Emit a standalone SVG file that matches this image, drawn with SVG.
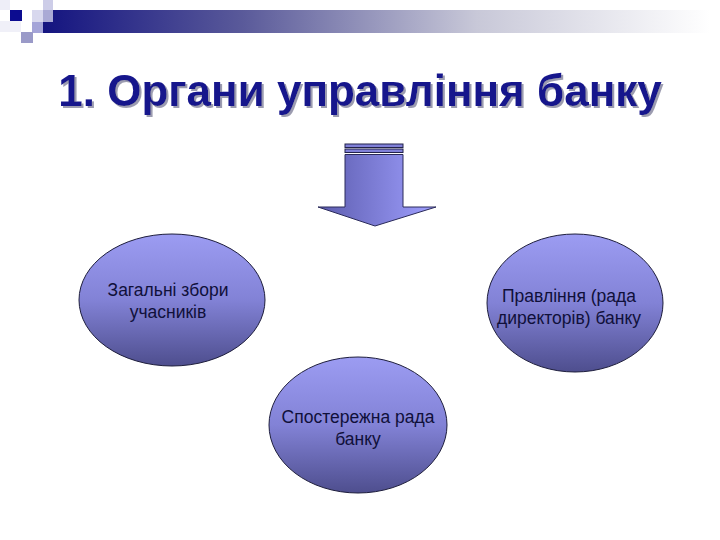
<svg xmlns="http://www.w3.org/2000/svg" width="720" height="540" viewBox="0 0 720 540">
<defs>
<linearGradient id="bar" x1="0" y1="0" x2="1" y2="0">
<stop offset="0" stop-color="#141480"/>
<stop offset="0.3" stop-color="#5a5a9a"/>
<stop offset="0.65" stop-color="#c8c8d8"/>
<stop offset="1" stop-color="#ffffff"/>
</linearGradient>
<linearGradient id="ell" x1="0" y1="0" x2="0" y2="1">
<stop offset="0" stop-color="#9c9cf2"/>
<stop offset="0.5" stop-color="#8282d6"/>
<stop offset="1" stop-color="#4e4e8e"/>
</linearGradient>
<linearGradient id="arr" x1="0" y1="0" x2="1" y2="0">
<stop offset="0" stop-color="#5c5cae"/>
<stop offset="1" stop-color="#a0a0ff"/>
</linearGradient>
<filter id="shadow" x="-5%" y="-20%" width="110%" height="150%">
<feDropShadow dx="2" dy="2" stdDeviation="0.6" flood-color="#9c9cb0" flood-opacity="1"/>
</filter>
</defs>
<style>
.node ellipse{fill:url(#ell);stroke:#1e1e3c;stroke-width:1}
.lbl{font-family:"Liberation Sans",Arial,sans-serif;font-size:17.5px;fill:#10103a;text-anchor:middle}
.title{font-family:"Liberation Sans",Arial,sans-serif;font-size:44px;font-weight:bold;text-anchor:middle;fill:#14148c}
</style>
<rect width="720" height="540" fill="#ffffff"/>
<!-- header decoration -->
<rect x="43" y="10" width="667" height="23" fill="url(#bar)"/>
<rect x="43" y="0" width="10" height="22" fill="#c4c4e4" opacity="0.85"/>
<rect x="32" y="10" width="11" height="12" fill="#d8d8ee"/>
<rect x="32" y="22" width="11" height="11" fill="#a4a4d8"/>
<rect x="0" y="0" width="10" height="10" fill="#eeeef8"/>
<rect x="10" y="10" width="12" height="11" fill="#0c0c90"/>
<rect x="21" y="32" width="12" height="11" fill="#9a9ac8"/>
<rect x="0" y="21" width="21" height="11" fill="#f0f0f8"/>
<!-- title -->
<text class="title" x="360" y="106" filter="url(#shadow)">1. Органи управління банку</text>
<!-- arrow -->
<g id="arrow">
<rect x="345" y="144" width="58" height="3.5" fill="#8080d8" stroke="#22224a" stroke-width="1"/>
<rect x="345" y="149" width="58" height="3.5" fill="#8080d8" stroke="#22224a" stroke-width="1"/>
<path d="M345 154.5 H403 V207 H436 L375 226 L318 207 H345 Z" fill="url(#arr)" stroke="#2a2a5a" stroke-width="1"/>
</g>
<g id="connectors"></g>
<g id="node-zahalni" class="node">
<ellipse cx="172" cy="300" rx="93" ry="66"/>
<text class="lbl" x="168" y="296">Загальні збори</text>
<text class="lbl" x="168" y="318">учасників</text>
</g>
<g id="node-pravlinnia" class="node">
<ellipse cx="575" cy="303" rx="88" ry="69"/>
<text class="lbl" x="569" y="302">Правління (рада</text>
<text class="lbl" x="569" y="324">директорів) банку</text>
</g>
<g id="node-sposterezhna" class="node">
<ellipse cx="358" cy="425" rx="89" ry="68"/>
<text class="lbl" x="358" y="423">Спостережна рада</text>
<text class="lbl" x="358" y="445">банку</text>
</g>
</svg>
